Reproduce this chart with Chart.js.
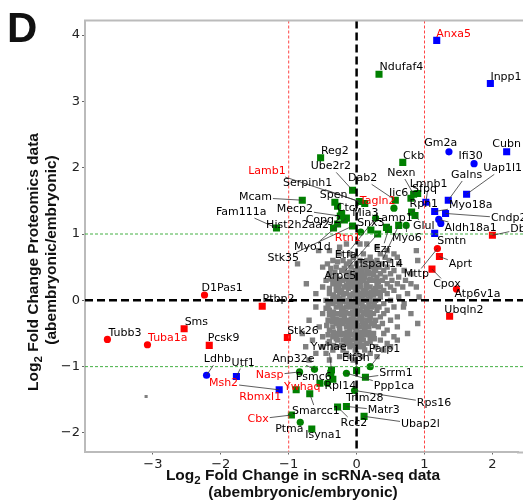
<!DOCTYPE html>
<html>
<head>
<meta charset="utf-8">
<script src="https://cdn.jsdelivr.net/npm/chart.js@4.4.1/dist/chart.umd.min.js"></script>
<style>
  html, body { margin: 0; padding: 0; background: #fff; }
</style>
</head>
<body>
<canvas id="myChart" width="523" height="504"></canvas>
<script>
// tick values
var xTicks = [-3, -2, -1, 0, 1, 2];
var yTicks = [-2, -1, 0, 1, 2, 3, 4];

// background proteins (gray), one row per proteomics value: [y, [x values]]
var grayRows = [
  [0.85, [-0.15, 0.05, 0.15]],
  [0.80, [-0.25, 0.30]],
  [0.75, [-0.40, -0.56, 0.45, 0.88]],
  [0.70, [-0.25, -0.10, 0.10, 0.35, 0.55]],
  [0.65, [-0.05, 0.20, 0.42, 0.60]],
  [0.60, [-0.35, -0.20, 0.05, 0.15, 0.30, 0.48, 0.90]],
  [0.58, [-0.28, -0.10, 0.12, 0.22]],
  [0.55, [-0.87, -0.43, -0.15, 0.00, 0.25, 0.38, 0.62]],
  [0.50, [-0.50, -0.30, -0.08, 0.10, 0.20, 0.33, 0.45]],
  [0.48, [-0.38, -0.18, 0.02, 0.15, 0.26]],
  [0.45, [-0.22, -0.02, 0.08, 0.28, 0.40, 0.55, 0.70]],
  [0.42, [-0.32, -0.10, 0.05, 0.18]],
  [0.40, [-0.40, -0.15, 0.00, 0.15, 0.22, 0.35, 0.50, 0.80]],
  [0.38, [-0.05, 0.10, 0.25]],
  [0.35, [-0.30, -0.10, 0.05, 0.12, 0.30, 0.42, 0.62]],
  [0.32, [-0.38, -0.24, -0.14, 0.00, 0.20]],
  [0.30, [-0.45, -0.20, -0.05, 0.10, 0.18, 0.25, 0.38, 0.52, 0.72]],
  [0.28, [-0.32, -0.10, 0.06, 0.32]],
  [0.25, [-0.74, -0.35, -0.25, -0.12, 0.02, 0.14, 0.30, 0.45, 0.60, 0.80]],
  [0.22, [-0.30, -0.15, -0.05, 0.05, 0.15]],
  [0.20, [-0.50, -0.18, -0.08, 0.06, 0.20, 0.35, 0.50, 0.68, 0.88]],
  [0.18, [-0.40, -0.26, -0.12, 0.00, 0.14, 0.28]],
  [0.15, [-0.30, -0.22, -0.02, 0.10, 0.25, 0.40, 0.55]],
  [0.12, [-0.25, 0.02, 0.22, 0.35]],
  [0.10, [-0.60, -0.40, -0.15, -0.05, 0.08, 0.15, 0.30, 0.45, 0.75]],
  [0.08, [-0.34, -0.20, -0.08, 0.04, 0.12, 0.25]],
  [0.05, [-0.28, -0.10, 0.00, 0.20, 0.35, 0.62, 0.92]],
  [0.02, [-0.35, -0.25, -0.02, 0.08, 0.18]],
  [0.00, [-0.45, -0.20, -0.12, 0.05, 0.12, 0.28, 0.50]],
  [-0.02, [-0.40, -0.30, -0.16, -0.06, 0.22]],
  [-0.05, [-0.35, -0.25, -0.05, 0.02, 0.18, 0.40, 0.70]],
  [-0.08, [-0.42, -0.24, -0.12, 0.00, 0.08, 0.26]],
  [-0.10, [-0.60, -0.30, -0.15, -0.08, 0.10, 0.22, 0.33, 0.55, 0.69]],
  [-0.12, [-0.45, -0.20, -0.02, 0.15]],
  [-0.15, [-0.40, -0.22, 0.00, 0.05, 0.15, 0.30, 0.45]],
  [-0.18, [-0.34, -0.16, -0.06, 0.10, 0.20]],
  [-0.20, [-0.50, -0.28, -0.10, -0.02, 0.12, 0.25, 0.40, 0.80]],
  [-0.22, [-0.40, -0.22, 0.02, 0.16]],
  [-0.25, [-0.35, -0.18, -0.05, 0.08, 0.20, 0.35, 0.60]],
  [-0.28, [-0.30, -0.08, 0.05, 0.20]],
  [-0.30, [-0.70, -0.42, -0.25, -0.12, 0.00, 0.15, 0.28, 0.50]],
  [-0.32, [-0.36, -0.18, -0.02, 0.08]],
  [-0.35, [-0.30, -0.20, -0.05, 0.10, 0.22, 0.38, 0.90]],
  [-0.38, [-0.44, -0.26, -0.12, 0.02, 0.14, 0.26]],
  [-0.40, [-0.55, -0.35, -0.15, -0.08, 0.05, 0.18, 0.32, 0.60]],
  [-0.42, [-0.25, -0.02, 0.12]],
  [-0.45, [-0.40, -0.25, -0.10, 0.00, 0.12, 0.45]],
  [-0.48, [-0.34, -0.14, 0.04, 0.18]],
  [-0.50, [-0.80, -0.30, -0.18, -0.02, 0.08, 0.25, 0.40, 0.75]],
  [-0.52, [-0.42, -0.24, -0.08, 0.14]],
  [-0.55, [-0.50, -0.35, -0.12, 0.02, 0.20, 0.55]],
  [-0.58, [-0.30, -0.16, -0.02, 0.08, 0.26]],
  [-0.60, [-0.65, -0.28, -0.20, -0.05, 0.10, 0.35, 0.60]],
  [-0.62, [-0.40, -0.10, 0.04, 0.20]],
  [-0.65, [-0.42, -0.15, 0.00, 0.15, 0.45]],
  [-0.68, [-0.34, -0.22, -0.06, 0.10]],
  [-0.70, [-0.75, -0.50, -0.30, -0.10, 0.05, 0.28, 0.50]],
  [-0.75, [-0.35, -0.20, -0.02, 0.12, 0.40]],
  [-0.80, [-0.60, -0.45, -0.15, 0.00, 0.20]],
  [-0.85, [-0.25, -0.10, 0.08, 0.30]],
  [-0.90, [-0.70, -0.40, -0.05]]
];
var grayFarX = [-3.10];
var grayFarY = [-1.45];

// green squares
var greenSqNames = ['Ndufaf4', 'Ckb', 'Reg2', 'Ube2r2', 'Lamb1', 'Serpinh1', 'Spen', '', 'Mcam', 'Mecp2',
  'Ctcf', 'Mia3', 'Copg2', 'Hist2h2aa2', 'Fam111a', 'Stk35', 'Myo1d', 'Nexn', 'Dab2', 'Iic6',
  'Sfpq', 'Rpn1', 'Glul', 'Lamp1', 'Ezr', 'Snx3', 'Arpc5', 'Tspan14', 'Ywhaq', 'Ywhae',
  '', 'Eif3h', 'Srrm1', 'Psmc6', 'Rpl14', 'Smarcc1', 'Matr3', 'Rcc2', 'Ubap2l', 'Cbx', 'Isyna1'];
var greenSqX = [0.33, 0.68, -0.53, -0.06, 0.04, 0.12, -0.32, -0.28, -0.80, -0.24,
  -0.22, -0.18, -0.34, -0.28, -1.18, -0.06, -0.15, 0.84, 0.57, 0.80,
  0.90, 0.81, 0.86, 0.44, 0.47, 0.21, 0.31, 0.62, -0.89, -0.37,
  -0.38, 0.00, 0.13, -0.54, -0.35, -0.69, -0.15, -0.28, 0.11, -0.96, -0.66];
var greenSqY = [3.41, 2.08, 2.15, 1.66, 1.49, 1.46, 1.48, 1.42, 1.51, 1.27,
  1.31, 1.21, 1.09, 1.15, 1.09, 1.12, 1.24, 1.60, 1.51, 1.54,
  1.61, 1.33, 1.28, 1.10, 1.07, 1.06, 1.00, 1.13, -1.35, -1.05,
  -1.10, -1.06, -1.16, -1.25, -1.19, -1.41, -1.60, -1.61, -1.75, -1.73, -1.94];

// green circles
var greenCiNames = ['Tagln2', 'Rtn1', 'Etfa', 'Myo6', 'Nasp', 'Anp32e', 'Parp1', '', 'Ppp1ca', 'Rps16', 'Ptma'];
var greenCiX = [0.55, 0.06, 0.28, 0.73, -0.84, -0.62, 0.20, -0.43, -0.15, -0.03, -0.83];
var greenCiY = [1.39, 1.03, 1.24, 1.13, -1.08, -1.04, -1.00, -1.25, -1.10, -1.36, -1.84];

// blue squares
var blueSqNames = ['Anxa5', 'Inpp1', 'Cubn', 'Uap1l1', 'Galns', 'Lmnb1', 'Myo18a', 'Cndp2', 'Smtn', 'Utf1', 'Msh2'];
var blueSqX = [1.18, 1.97, 2.21, 1.62, 1.35, 1.02, 1.15, 1.31, 1.15, -1.77, -1.14];
var blueSqY = [3.92, 3.27, 2.24, 1.60, 1.51, 1.48, 1.34, 1.31, 1.01, -1.15, -1.35];

// blue circles
var blueCiNames = ['Gm2a', 'Ifi30', 'Aldh18a1', '', 'Ldhb'];
var blueCiX = [1.36, 1.73, 1.21, 1.24, -2.21];
var blueCiY = [2.24, 2.06, 1.22, 1.16, -1.13];

// red squares
var redSqNames = ['Dbi', 'Aprt', 'Cpox', 'Ubqln2', 'Sms', 'Pcsk9', 'Ptbp2', 'Stk26'];
var redSqX = [2.00, 1.22, 1.11, 1.37, -2.54, -2.17, -1.39, -1.02];
var redSqY = [0.98, 0.66, 0.47, -0.24, -0.43, -0.68, -0.09, -0.56];

// red circles
var redCiNames = ['Mttp', 'Atp6v1a', 'D1Pas1', 'Tubb3', 'Tuba1a'];
var redCiX = [1.19, 1.47, -2.24, -3.67, -3.08];
var redCiY = [0.78, 0.17, 0.08, -0.59, -0.67];

// gene labels: name, label centre (x, y in data units), text colour, leader line
var geneLabels = [
  ['Anxa5', 1.43, 4.02, 'red', 0], ['Ndufaf4', 0.66, 3.51, 'black', 0], ['Inpp1', 2.20, 3.37, 'black', 0],
  ['Gm2a', 1.24, 2.37, 'black', 0], ['Cubn', 2.21, 2.35, 'black', 0], ['Ifi30', 1.68, 2.17, 'black', 0],
  ['Ckb', 0.84, 2.17, 'black', 0], ['Uap1l1', 2.15, 1.99, 'black', 1], ['Galns', 1.62, 1.89, 'black', 1],
  ['Nexn', 0.66, 1.92, 'black', 1], ['Dab2', 0.09, 1.84, 'black', 1], ['Iic6', 0.62, 1.62, 'black', 1],
  ['Sfpq', 1.00, 1.67, 'black', 1], ['Lmnb1', 1.06, 1.75, 'black', 1], ['Tagln2', 0.31, 1.49, 'red', 0],
  ['Rpn1', 0.99, 1.45, 'black', 1], ['Myo18a', 1.68, 1.43, 'black', 1], ['Cndp2', 2.24, 1.24, 'black', 1],
  ['Aldh18a1', 1.68, 1.09, 'black', 1], ['Glul', 0.99, 1.12, 'black', 1], ['Smtn', 1.40, 0.90, 'black', 1],
  ['Dbi', 2.40, 1.07, 'black', 1], ['Mttp', 0.88, 0.39, 'black', 1], ['Aprt', 1.53, 0.54, 'black', 1],
  ['Cpox', 1.33, 0.24, 'black', 1], ['Atp6v1a', 1.78, 0.09, 'black', 0], ['Ubqln2', 1.58, -0.15, 'black', 0],
  ['Myo6', 0.74, 0.94, 'black', 1], ['Lamp1', 0.55, 1.24, 'black', 1], ['Snx3', 0.21, 1.16, 'black', 0],
  ['Ezr', 0.38, 0.77, 'black', 1], ['Tspan14', 0.35, 0.54, 'black', 1], ['Rtn1', -0.13, 0.94, 'red', 0],
  ['Etfa', -0.16, 0.68, 'black', 1], ['Arpc5', -0.24, 0.36, 'black', 1], ['Spen', -0.34, 1.58, 'black', 0],
  ['Serpinh1', -0.72, 1.76, 'black', 1], ['Ube2r2', -0.38, 2.02, 'black', 1], ['Reg2', -0.32, 2.25, 'black', 0],
  ['Lamb1', -1.32, 1.95, 'red', 1], ['Mcam', -1.49, 1.55, 'black', 1], ['Mecp2', -0.91, 1.37, 'black', 1],
  ['Ctcf', -0.13, 1.39, 'black', 0], ['Mia3', 0.13, 1.31, 'black', 0], ['Copg2', -0.49, 1.21, 'black', 0],
  ['Hist2h2aa2', -0.87, 1.13, 'black', 0], ['Fam111a', -1.70, 1.33, 'black', 1], ['Stk35', -1.08, 0.63, 'black', 1],
  ['Myo1d', -0.65, 0.80, 'black', 1], ['D1Pas1', -1.98, 0.18, 'black', 0], ['Ptbp2', -1.15, 0.02, 'black', 0],
  ['Tubb3', -3.41, -0.49, 'black', 0], ['Tuba1a', -2.78, -0.57, 'red', 0], ['Sms', -2.36, -0.33, 'black', 0],
  ['Pcsk9', -1.96, -0.57, 'black', 0], ['Ldhb', -2.05, -0.89, 'black', 1], ['Utf1', -1.67, -0.94, 'black', 1],
  ['Msh2', -1.96, -1.25, 'red', 1], ['Rbmxl1', -1.42, -1.46, 'red', 0], ['Ywhaq', -0.80, -1.31, 'red', 0],
  ['Nasp', -1.28, -1.13, 'red', 1], ['Anp32e', -0.93, -0.89, 'black', 1], ['Ywhae', -0.41, -0.70, 'black', 1],
  ['Eif3h', -0.01, -0.87, 'black', 1], ['Parp1', 0.41, -0.73, 'black', 1], ['Srrm1', 0.58, -1.10, 'black', 1],
  ['Psmc6', -0.63, -1.16, 'black', 0], ['Ppp1ca', 0.55, -1.30, 'black', 1], ['Rpl14', -0.24, -1.30, 'black', 0],
  ['Rps16', 1.14, -1.55, 'black', 1], ['Trim28', 0.12, -1.47, 'black', 0], ['Smarcc1', -0.60, -1.67, 'black', 1],
  ['Matr3', 0.40, -1.66, 'black', 1], ['Rcc2', -0.04, -1.85, 'black', 1], ['Ubap2l', 0.94, -1.87, 'black', 1],
  ['Cbx', -1.45, -1.79, 'red', 1], ['Ptma', -0.99, -1.94, 'black', 0], ['Isyna1', -0.49, -2.04, 'black', 0],
  ['Stk26', -0.79, -0.46, 'black', 0]
];

function toPoints(xs, ys) {
  return xs.map(function (v, i) { return { x: v, y: ys[i] }; });
}

var grayPoints = [];
grayRows.forEach(function (r) {
  r[1].forEach(function (v) { grayPoints.push({ x: v, y: r[0] }); });
});

var lookup = {};
[[greenSqNames, greenSqX, greenSqY], [greenCiNames, greenCiX, greenCiY],
 [blueSqNames, blueSqX, blueSqY], [blueCiNames, blueCiX, blueCiY],
 [redSqNames, redSqX, redSqY], [redCiNames, redCiX, redCiY]].forEach(function (g) {
  g[0].forEach(function (n, i) { if (n) lookup[n] = { x: g[1][i], y: g[2][i] }; });
});

function minus(v) { return v < 0 ? '\u2212' + Math.abs(v) : '' + v; }

function drawParts(ctx, parts) {
  // parts: [text, size, baseline shift]
  var total = 0;
  parts.forEach(function (p) {
    ctx.font = 'bold ' + p[1] + 'px "Liberation Sans", Arial, sans-serif';
    total += ctx.measureText(p[0]).width;
  });
  var x = -total / 2;
  parts.forEach(function (p) {
    ctx.font = 'bold ' + p[1] + 'px "Liberation Sans", Arial, sans-serif';
    ctx.fillText(p[0], x, p[2]);
    x += ctx.measureText(p[0]).width;
  });
}

var overlay = {
  id: 'overlay',
  afterDatasetsDraw: function (chart) {
    var ctx = chart.ctx, a = chart.chartArea, W = chart.width;
    var xs = chart.scales.x, ys = chart.scales.y;
    ctx.save();

    // threshold lines
    function vline(v, col, w, dash) {
      var px = xs.getPixelForValue(v);
      ctx.strokeStyle = col; ctx.lineWidth = w; ctx.setLineDash(dash);
      ctx.beginPath(); ctx.moveTo(px, a.top); ctx.lineTo(px, a.bottom); ctx.stroke();
    }
    function hline(v, col, w, dash) {
      var py = ys.getPixelForValue(v);
      ctx.strokeStyle = col; ctx.lineWidth = w; ctx.setLineDash(dash);
      ctx.beginPath(); ctx.moveTo(a.left, py); ctx.lineTo(W, py); ctx.stroke();
    }
    hline(1, '#44b044', 1, [3, 2]);
    hline(-1, '#44b044', 1, [3, 2]);
    vline(1, '#ff4444', 1, [3, 2]);
    vline(-1, '#ff4444', 1, [3, 2]);
    vline(0, '#000', 2.5, [8, 4]);
    hline(0, '#000', 2.5, [8, 4]);
    ctx.setLineDash([]);

    // top spine and the rest of the bottom spine
    ctx.strokeStyle = '#bbbbbb'; ctx.lineWidth = 2;
    ctx.beginPath(); ctx.moveTo(a.left - 1, a.top); ctx.lineTo(W, a.top); ctx.stroke();
    ctx.beginPath(); ctx.moveTo(a.right - 1, a.bottom + 1); ctx.lineTo(W, a.bottom + 1); ctx.stroke();

    // leader lines
    ctx.font = '11px "DejaVu Sans", sans-serif';
    ctx.strokeStyle = '#333'; ctx.lineWidth = 0.8;
    geneLabels.forEach(function (l) {
      var p = lookup[l[0]];
      if (!l[4] || !p) return;
      var cx = xs.getPixelForValue(l[1]), cy = ys.getPixelForValue(l[2]);
      var px = xs.getPixelForValue(p.x), py = ys.getPixelForValue(p.y);
      var hw = ctx.measureText(l[0]).width / 2 + 1, hh = 6;
      var dx = px - cx, dy = py - cy;
      var t = Math.min(dx ? hw / Math.abs(dx) : Infinity, dy ? hh / Math.abs(dy) : Infinity);
      if (t >= 1) return;
      ctx.beginPath(); ctx.moveTo(cx + dx * t, cy + dy * t); ctx.lineTo(px, py); ctx.stroke();
    });

    // label texts
    ctx.textAlign = 'center'; ctx.textBaseline = 'middle';
    geneLabels.forEach(function (l) {
      ctx.fillStyle = l[3] === 'red' ? '#ff0000' : '#000';
      ctx.fillText(l[0], xs.getPixelForValue(l[1]), ys.getPixelForValue(l[2]));
    });
    ctx.restore();
  },
  afterDraw: function (chart) {
    var ctx = chart.ctx;
    ctx.save();
    ctx.fillStyle = '#111';
    ctx.textAlign = 'left'; ctx.textBaseline = 'alphabetic';

    // panel letter
    ctx.font = 'bold 42px "Liberation Sans", Arial, sans-serif';
    ctx.fillText('D', 7, 42);

    // x axis title
    ctx.save();
    ctx.translate(303, 480);
    drawParts(ctx, [['Log', 15.5, 0], ['2', 11.5, 4], [' Fold Change in scRNA-seq data', 15.5, 0]]);
    ctx.restore();
    ctx.save();
    ctx.translate(303, 497);
    drawParts(ctx, [['(abembryonic/embryonic)', 15.5, 0]]);
    ctx.restore();

    // y axis title
    ctx.save();
    ctx.translate(38, 262);
    ctx.rotate(-Math.PI / 2);
    drawParts(ctx, [['Log', 15.5, 0], ['2', 11.5, 4], [' Fold Change Proteomics data', 15.5, 0]]);
    ctx.restore();
    ctx.save();
    ctx.translate(56, 250);
    ctx.rotate(-Math.PI / 2);
    drawParts(ctx, [['(abembryonic/embryonic)', 15.5, 0]]);
    ctx.restore();

    ctx.restore();
  }
};

var chart = new Chart('myChart', {
  type: 'scatter',
  data: {
    datasets: [
      { data: grayPoints, pointStyle: 'rect', radius: 3.8, backgroundColor: '#808080', borderWidth: 0 },
      { data: toPoints(grayFarX, grayFarY), pointStyle: 'rect', radius: 2.2, backgroundColor: '#808080', borderWidth: 0 },
      { data: toPoints(greenSqX, greenSqY), pointStyle: 'rect', radius: 5, backgroundColor: '#008000', borderWidth: 0 },
      { data: toPoints(greenCiX, greenCiY), pointStyle: 'circle', radius: 3.6, backgroundColor: '#008000', borderWidth: 0 },
      { data: toPoints(blueSqX, blueSqY), pointStyle: 'rect', radius: 5, backgroundColor: '#0000ff', borderWidth: 0 },
      { data: toPoints(blueCiX, blueCiY), pointStyle: 'circle', radius: 3.6, backgroundColor: '#0000ff', borderWidth: 0 },
      { data: toPoints(redSqX, redSqY), pointStyle: 'rect', radius: 5, backgroundColor: '#ff0000', borderWidth: 0 },
      { data: toPoints(redCiX, redCiY), pointStyle: 'circle', radius: 3.6, backgroundColor: '#ff0000', borderWidth: 0 }
    ]
  },
  options: {
    responsive: false,
    animation: false,
    layout: { padding: { top: 20.5, left: 0, right: 0, bottom: 0 } },
    plugins: { legend: { display: false }, tooltip: { enabled: false } },
    scales: {
      x: {
        type: 'linear', min: -4.0, max: 2.377,
        afterBuildTicks: function (s) { s.ticks = xTicks.map(function (v) { return { value: v }; }); },
        afterFit: function (s) { s.height = 52.5; },
        grid: { drawOnChartArea: false, drawTicks: true, tickLength: 3, color: '#666' },
        border: { color: '#bbbbbb', width: 2 },
        ticks: { callback: minus, padding: 2, color: '#222', font: { family: '"DejaVu Sans"', size: 13 } }
      },
      y: {
        type: 'linear', min: -2.28, max: 4.22,
        afterBuildTicks: function (s) { s.ticks = yTicks.map(function (v) { return { value: v }; }); },
        afterFit: function (s) { s.width = 85; },
        grid: { drawOnChartArea: false, drawTicks: true, tickLength: 3, color: '#666' },
        border: { color: '#bbbbbb', width: 2 },
        ticks: { callback: minus, padding: 2, color: '#222', font: { family: '"DejaVu Sans"', size: 13 } }
      }
    }
  },
  plugins: [overlay]
});
</script>
</body>
</html>
